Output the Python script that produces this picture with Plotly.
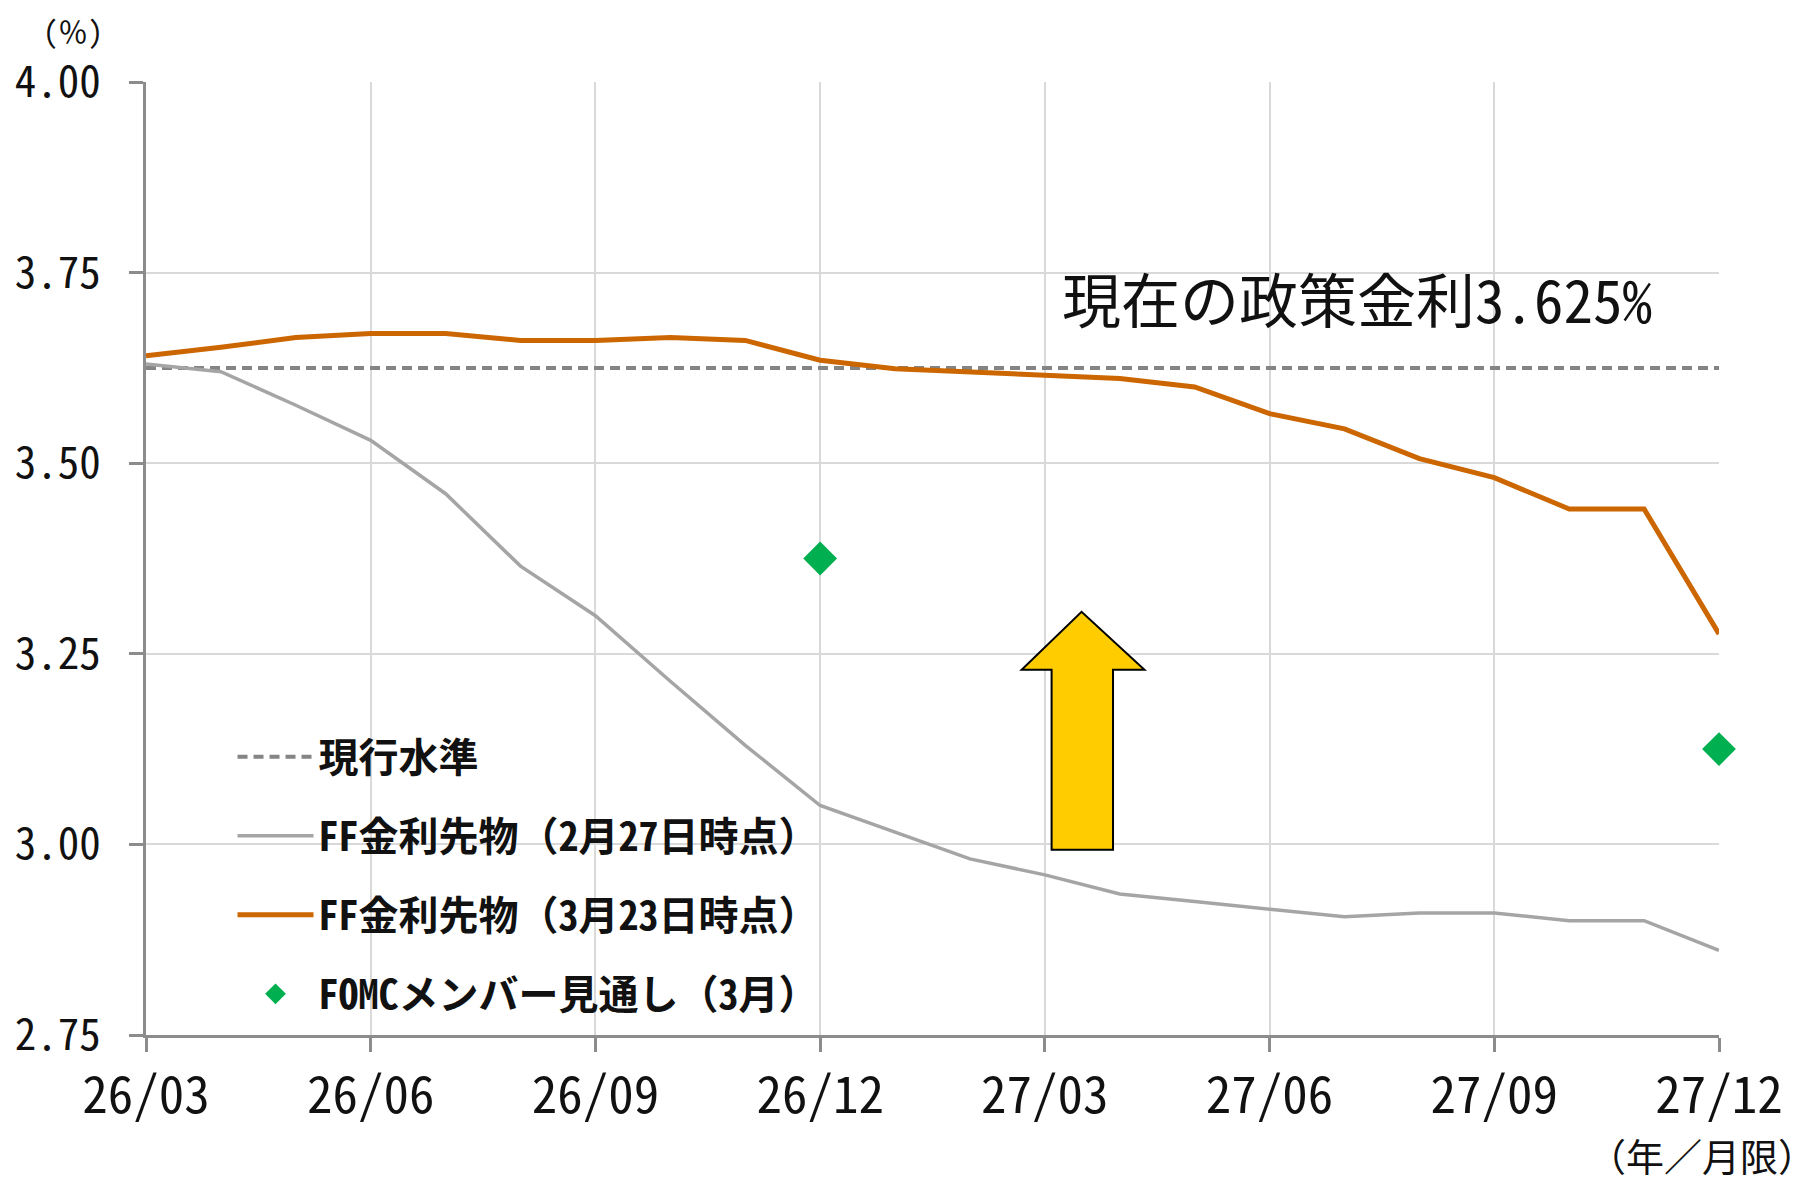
import plotly.graph_objects as go

# ---- data ----
months = ["26/03", "26/04", "26/05", "26/06", "26/07", "26/08", "26/09", "26/10",
          "26/11", "26/12", "27/01", "27/02", "27/03", "27/04", "27/05", "27/06",
          "27/07", "27/08", "27/09", "27/10", "27/11", "27/12"]
ff_feb27 = [3.630, 3.620, 3.576, 3.530, 3.460, 3.365, 3.300, 3.214, 3.130, 3.051, 3.016,
            2.981, 2.960, 2.935, 2.925, 2.915, 2.905, 2.910, 2.910, 2.900, 2.900, 2.861]
ff_mar23 = [3.641, 3.652, 3.665, 3.670, 3.670, 3.661, 3.661, 3.665, 3.661, 3.635, 3.624,
            3.620, 3.615, 3.611, 3.600, 3.565, 3.545, 3.506, 3.481, 3.440, 3.440, 3.276]
current_level = 3.625
fomc_months = ["26/12", "27/12"]
fomc_values = [3.375, 3.125]
tick_labels = ["26/03", "26/06", "26/09", "26/12", "27/03", "27/06", "27/09", "27/12"]
y_ticks = [2.75, 3.00, 3.25, 3.50, 3.75, 4.00]

idx = {m: i for i, m in enumerate(months)}
x_all = list(range(len(months)))
tick_vals = [idx[t] for t in tick_labels]

FONT = "Noto Sans Mono CJK JP, Noto Sans CJK JP"

fig = go.Figure()
fig.add_trace(go.Scatter(
    x=x_all, y=[current_level] * len(months), mode="lines", name="現行水準",
    line=dict(color="#848484", width=4, dash="10px,6px"), legendgroup="a"))
fig.add_trace(go.Scatter(
    x=x_all, y=ff_feb27, mode="lines", name="FF金利先物（2月27日時点）",
    line=dict(color="#A5A5A5", width=3.5), legendgroup="b"))
fig.add_trace(go.Scatter(
    x=x_all, y=ff_mar23, mode="lines", name="FF金利先物（3月23日時点）",
    line=dict(color="#CC6600", width=5), legendgroup="c"))
fig.add_trace(go.Scatter(
    x=[idx[m] for m in fomc_months], y=fomc_values, mode="markers",
    name="FOMCメンバー見通し（3月）",
    marker=dict(symbol="diamond", color="#00B050", size=26), cliponaxis=False,
    legendgroup="d"))

# up arrow
ax = [12.09, 12.09, 11.69, 12.49, 13.33, 12.91, 12.91]
ay = [2.993, 3.229, 3.229, 3.305, 3.229, 3.229, 2.993]
path = "M " + " L ".join(f"{a},{b}" for a, b in zip(ax, ay)) + " Z"
fig.add_shape(type="path", path=path, xref="x", yref="y",
              fillcolor="#FFCC00", line=dict(color="#000000", width=2), layer="above")

fig.add_annotation(x=16.17, y=3.717, xref="x", yref="y", text="現在の政策金利3.625%",
                   xanchor="center", yanchor="middle",
                   showarrow=False, font=dict(family=FONT, size=59, color="#111111"))
fig.add_annotation(x=-0.0464, y=1.0546, xref="paper", yref="paper", text="(％)",
                   xanchor="center", yanchor="middle",
                   showarrow=False, font=dict(family=FONT, size=30, color="#111111"))
fig.add_annotation(x=0.989, y=-0.1249, xref="paper", yref="paper", text="（年／月限）",
                   xanchor="center", yanchor="middle",
                   showarrow=False, font=dict(family=FONT, size=38, color="#111111"))

fig.update_layout(
    width=1810, height=1179,
    margin=dict(l=138, r=99, t=74, b=152),
    paper_bgcolor="white", plot_bgcolor="white",
    font=dict(family=FONT, color="#111111"),
    legend=dict(x=0.055, y=0.326, xanchor="left", yanchor="top",
                font=dict(family=FONT, size=40, color="#111111", weight="bold"),
                itemwidth=76, tracegroupgap=24, bgcolor="rgba(0,0,0,0)"),
    showlegend=True,
)
fig.update_xaxes(range=[0, 21], tickmode="array", tickvals=tick_vals, ticktext=tick_labels,
                 showgrid=True, gridcolor="#D9D9D9", gridwidth=2,
                 showline=True, linecolor="#8C8C8C", linewidth=2.5,
                 ticks="outside", ticklen=14, tickwidth=2.5, tickcolor="#8C8C8C",
                 tickfont=dict(family=FONT, size=51, color="#111111"),
                 ticklabelstandoff=0, zeroline=False, automargin=False)
fig.update_yaxes(range=[2.75, 4.0], tickmode="array", tickvals=y_ticks,
                 ticktext=[f"{v:.2f}" for v in y_ticks],
                 showgrid=True, gridcolor="#D9D9D9", gridwidth=2,
                 showline=True, linecolor="#8C8C8C", linewidth=2.5,
                 ticks="outside", ticklen=14, tickwidth=2.5, tickcolor="#8C8C8C",
                 tickfont=dict(family=FONT, size=43, color="#111111"),
                 ticklabelstandoff=20, zeroline=False, automargin=False)

fig.write_html("out.html")
